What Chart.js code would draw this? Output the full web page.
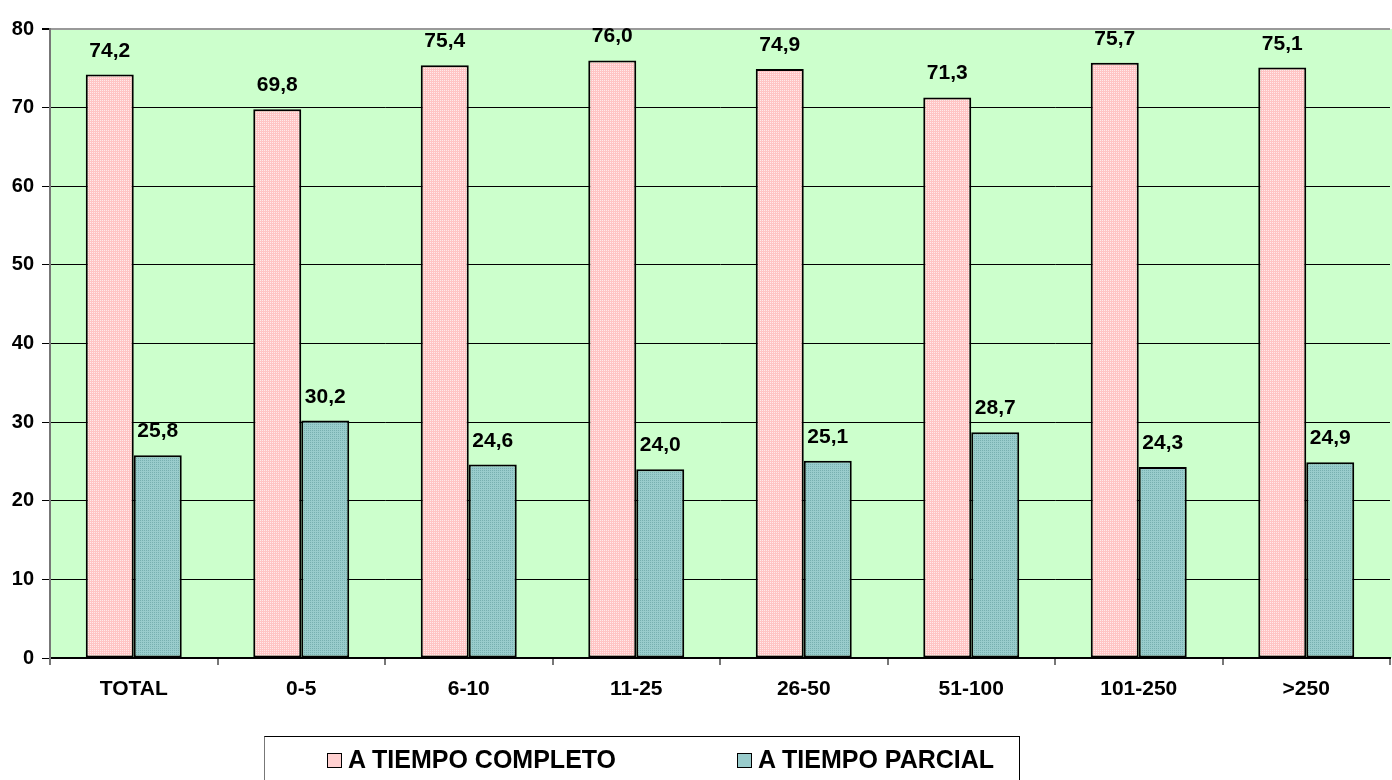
<!DOCTYPE html>
<html>
<head>
<meta charset="utf-8">
<script src="https://cdn.jsdelivr.net/npm/chart.js@4.4.0/dist/chart.umd.min.js"></script>
<style>
  html, body { margin: 0; padding: 0; background: #fff; }
  #wrap { position: relative; width: 1392px; height: 780px; overflow: hidden; }
  #legend {
    position: absolute; left: 264px; top: 736px; width: 756px; height: 70px;
    border: 1px solid #000; border-left-color: #777; box-sizing: border-box;
    font: bold 25px "Liberation Sans", Arial, sans-serif; color: #000;
  }
  .item { position: absolute; top: 7px; display: flex; align-items: center; line-height: 30px; }
  .sw { width: 13px; height: 13px; border: 1px solid #000; margin-right: 6px; margin-top: 3px; }
</style>
</head>
<body>
<div id="wrap">
  <canvas id="chart" width="1392" height="780"></canvas>
  <div id="legend"></div>
</div>
<script>
// categories and values
const categories = ['TOTAL', '0-5', '6-10', '11-25', '26-50', '51-100', '101-250', '>250'];
const tiempoCompleto = [74.2, 69.8, 75.4, 76.0, 74.9, 71.3, 75.7, 75.1];
const tiempoParcial = [25.8, 30.2, 24.6, 24.0, 25.1, 28.7, 24.3, 24.9];
const seriesNames = ['A TIEMPO COMPLETO', 'A TIEMPO PARCIAL'];
const yTicks = [0, 10, 20, 30, 40, 50, 60, 70, 80];

const FONT = '"Liberation Sans", Arial, sans-serif';

// fine dotted fill like the old Excel pattern
function makePattern(base, dot) {
    const c = document.createElement('canvas');
    c.width = 2; c.height = 2;
    const g = c.getContext('2d');
    g.fillStyle = base;
    g.fillRect(0, 0, 2, 2);
    g.fillStyle = dot;
    g.fillRect(0, 0, 1, 1);
    return g.createPattern(c, 'repeat');
}
const pinkFill = makePattern('#ffc4c4', '#ffeaea');
const tealFill = makePattern('#99cccc', '#78b0b0');

const ctx = document.getElementById('chart').getContext('2d');

const plotBackground = {
    id: 'plotBackground',
    beforeDraw(chart) {
        const a = chart.chartArea;
        const c = chart.ctx;
        c.save();
        c.fillStyle = '#ccffcc';
        c.fillRect(a.left, a.top, a.right - a.left + 2, a.bottom - a.top);
        c.restore();
    }
};

const valueLabels = {
    id: 'valueLabels',
    afterDatasetsDraw(chart) {
        const c = chart.ctx;
        c.save();
        c.font = 'bold 21px ' + FONT;
        c.fillStyle = '#000';
        c.textAlign = 'center';
        c.textBaseline = 'alphabetic';
        chart.data.datasets.forEach((ds, i) => {
            chart.getDatasetMeta(i).data.forEach((bar, j) => {
                const txt = ds.data[j].toFixed(1).replace('.', ',');
                c.fillText(txt, bar.x, bar.y - 18);
            });
        });
        c.restore();
    }
};

const myChart = new Chart(ctx, {
    type: 'bar',
    data: {
        labels: categories,
        datasets: [
            {
                label: seriesNames[0],
                data: tiempoCompleto,
                backgroundColor: pinkFill,
                borderColor: '#000',
                borderWidth: 2,
                borderSkipped: false
            },
            {
                label: seriesNames[1],
                data: tiempoParcial,
                backgroundColor: tealFill,
                borderColor: '#000',
                borderWidth: 2,
                borderSkipped: false
            }
        ]
    },
    options: {
        responsive: false,
        animation: false,
        events: [],
        layout: { padding: { top: 29, right: 2, bottom: 62, left: 0 } },
        datasets: { bar: { categoryPercentage: 0.573, barPercentage: 1 } },
        plugins: {
            legend: { display: false },
            tooltip: { enabled: false }
        },
        scales: {
            x: {
                afterFit(scale) { scale.height = 60; },
                grid: {
                    offset: true,
                    drawOnChartArea: false,
                    color: '#777',
                    tickLength: 7,
                    lineWidth: 2
                },
                border: { color: '#000', width: 2 },
                ticks: {
                    color: '#000',
                    padding: 12,
                    font: { family: FONT, size: 21, weight: 'bold' }
                }
            },
            y: {
                min: 0,
                max: 80,
                afterFit(scale) { scale.width = 50; },
                afterBuildTicks(scale) {
                    scale.ticks = yTicks.map(v => ({ value: v }));
                },
                grid: {
                    color: (c) => c.tick && c.tick.value === 80 ? '#999' : '#000',
                    lineWidth: (c) => c.tick && c.tick.value === 80 ? 2 : 1,
                    tickColor: '#000',
                    tickLength: 8
                },
                border: { color: '#777', width: 2 },
                ticks: {
                    color: '#000',
                    padding: 8,
                    font: { family: FONT, size: 20, weight: 'bold' }
                }
            }
        }
    },
    plugins: [plotBackground, valueLabels]
});

// legend built from the chart's datasets
const legend = document.getElementById('legend');
const swatchColors = ['#ffd0d0', '#99cccc'];
const itemLeft = [62, 472];
myChart.data.datasets.forEach((ds, i) => {
    const item = document.createElement('div');
    item.className = 'item';
    item.style.left = itemLeft[i] + 'px';
    const sw = document.createElement('span');
    sw.className = 'sw';
    sw.style.background = swatchColors[i];
    const t = document.createElement('span');
    t.textContent = ds.label;
    item.appendChild(sw);
    item.appendChild(t);
    legend.appendChild(item);
});
</script>
</body>
</html>
